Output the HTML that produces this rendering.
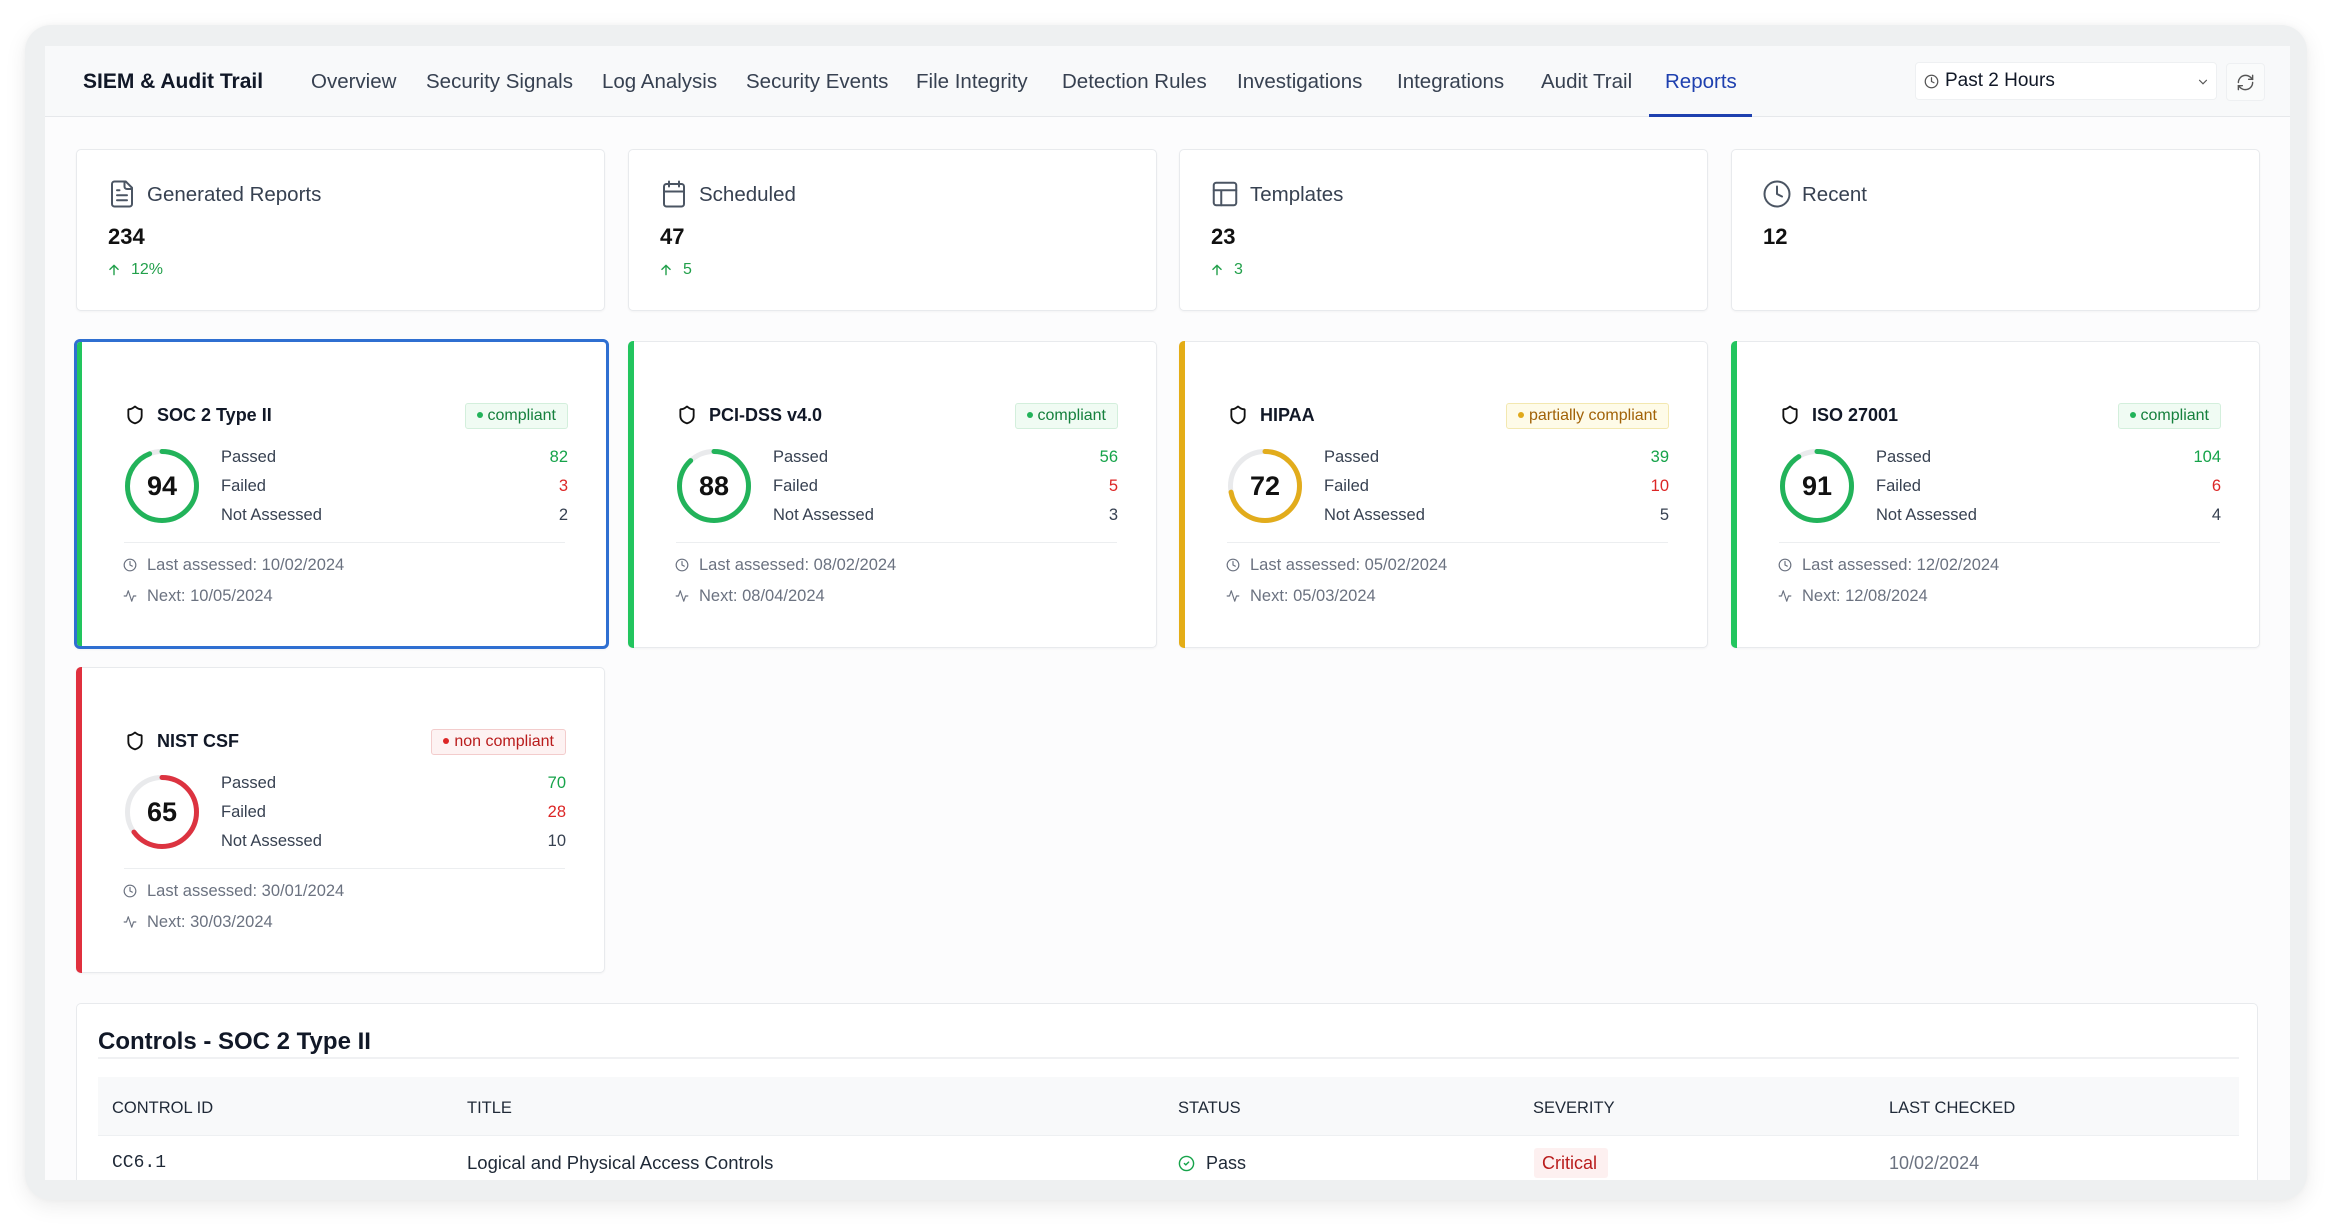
<!DOCTYPE html>
<html><head><meta charset="utf-8">
<style>
*{box-sizing:border-box;margin:0;padding:0}
html,body{width:2332px;height:1224px;overflow:hidden;background:#fff;font-family:"Liberation Sans",Arial,sans-serif;color:#111827}
.t{position:absolute;white-space:nowrap}
#frame{position:absolute;left:25px;top:25px;width:2282px;height:1175px;background:#eef0f1;border-radius:26px;box-shadow:0 6px 22px rgba(0,0,0,.08),0 0 6px rgba(0,0,0,.03)}
#screen{position:absolute;left:45px;top:46px;width:2245px;height:1134px;background:#fcfcfd;overflow:hidden}
#nav{position:absolute;left:0;top:0;width:2245px;height:71px;background:#f8f9fa;border-bottom:1px solid #e6e8eb}
.nv{position:absolute;top:21px;line-height:30px;font-size:20.5px;color:#374151;white-space:nowrap}
.scard{position:absolute;top:103px;width:529px;height:162px;background:#fff;border:1px solid #e8eaed;border-radius:5px;box-shadow:0 1px 2px rgba(0,0,0,.04)}
.scard .lab{position:absolute;left:70px;top:33px;line-height:24px;font-size:20.5px;color:#374151;white-space:nowrap}
.scard .v{position:absolute;left:31px;top:73px;line-height:28px;font-size:22px;font-weight:bold;color:#111}
.scard .ch{position:absolute;left:54px;top:110px;line-height:20px;font-size:16px;color:#22a04b}
.scard svg.ic{position:absolute;left:30px;top:29px}
.scard svg.ar{position:absolute;left:30px;top:113px}
.card{position:absolute;width:529px;height:307px;background:#fff;border:1px solid #e8eaed;border-radius:5px;box-shadow:0 1px 2px rgba(0,0,0,.04)}
.card .bar{position:absolute;left:-1px;top:-1px;bottom:-1px;width:6px;border-radius:5px 0 0 5px}
.card.sel{border:3px solid #2f6fd1;border-radius:6px;width:535px;height:310px}
.card.sel .bar{left:0;top:0;bottom:0;width:5px;border-radius:3px 0 0 3px}
.shield{position:absolute;left:48px;top:63px}
.ctitle{position:absolute;left:80px;top:61px;line-height:24px;font-size:18px;font-weight:bold;color:#111827;white-space:nowrap}
.badge{position:absolute;right:38px;top:61px;height:26px;line-height:24px;padding:0 11px 0 11px;font-size:16px;border:1px solid;border-radius:3px;white-space:nowrap}
.badge i{display:inline-block;width:6px;height:6px;border-radius:50%;margin-right:5px;vertical-align:2px}
.ok{background:#f0fbf3;border-color:#d3efdc;color:#15803d}.ok i{background:#22b35a}
.pa{background:#fefbe8;border-color:#f3e8b0;color:#a16207}.pa i{background:#e0a91b}
.no{background:#fdf2f2;border-color:#f3cccc;color:#b91c1c}.no i{background:#dc2626}
.ring{position:absolute;left:47px;top:106px}
.num{position:absolute;left:47px;top:106px;width:76px;height:76px;line-height:76px;text-align:center;font-size:27px;font-weight:bold;color:#111}
.lb{position:absolute;left:144px;line-height:24px;font-size:16.5px;color:#374151;white-space:nowrap}
.vl{position:absolute;right:38px;line-height:24px;font-size:16.5px;text-align:right}
.g{color:#16a34a}.r{color:#dc2626}.k{color:#374151}
.dv{position:absolute;left:47px;top:200px;width:441px;height:1px;background:#eceef0}
.mi{position:absolute;left:46px}
.mt{position:absolute;left:70px;line-height:24px;font-size:16.5px;color:#6b7280;white-space:nowrap}
#panel{position:absolute;left:31px;top:957px;width:2182px;height:177px;background:#fff;border:1px solid #e8eaed;border-bottom:none;border-radius:5px 5px 0 0;overflow:hidden}
.th{position:absolute;top:92px;line-height:24px;font-size:16.5px;color:#1f2937;white-space:nowrap}
.td{position:absolute;top:147px;line-height:24px;font-size:18px;color:#1f2937;white-space:nowrap}
</style></head><body>
<div id="frame"></div>
<div id="screen">
  <div id="nav">
    <div class="t" style="left:38px;top:22px;line-height:28px;font-size:21px;font-weight:bold;color:#111827">SIEM &amp; Audit Trail</div>
    <div class="nv" style="left:266px">Overview</div>
    <div class="nv" style="left:381px">Security Signals</div>
    <div class="nv" style="left:557px">Log Analysis</div>
    <div class="nv" style="left:701px">Security Events</div>
    <div class="nv" style="left:871px">File Integrity</div>
    <div class="nv" style="left:1017px">Detection Rules</div>
    <div class="nv" style="left:1192px">Investigations</div>
    <div class="nv" style="left:1352px">Integrations</div>
    <div class="nv" style="left:1496px">Audit Trail</div>
    <div class="nv" style="left:1620px;color:#1e40af">Reports</div>
    <div style="position:absolute;left:1604px;top:68px;width:103px;height:3px;background:#1e40af"></div>
    <div style="position:absolute;left:1870px;top:16px;width:302px;height:38px;background:#fff;border:1px solid #eef0f2;border-radius:4px">
      <svg style="position:absolute;left:8px;top:11px" width="15" height="15" viewBox="0 0 24 24" fill="none" stroke="#555" stroke-width="2" stroke-linecap="round"><circle cx="12" cy="12" r="10"/><polyline points="12 6 12 12 16 14"/></svg>
      <div class="t" style="left:29px;top:6px;line-height:24px;font-size:19px;color:#111827">Past 2 Hours</div>
      <svg style="position:absolute;left:280px;top:12px" width="14" height="14" viewBox="0 0 24 24" fill="none" stroke="#555" stroke-width="2" stroke-linecap="round"><path d="m6 9 6 6 6-6"/></svg>
    </div>
    <div style="position:absolute;left:2181px;top:17px;width:39px;height:38px;background:#fafbfb;border:1px solid #eef0f2;border-radius:4px">
      <svg style="position:absolute;left:9px;top:9px" width="19" height="19" viewBox="0 0 24 24" fill="none" stroke="#555" stroke-width="1.8" stroke-linecap="round" stroke-linejoin="round"><path d="M3 12a9 9 0 0 1 9-9 9.75 9.75 0 0 1 6.74 2.74L21 8"/><path d="M21 3v5h-5"/><path d="M21 12a9 9 0 0 1-9 9 9.75 9.75 0 0 1-6.74-2.74L3 16"/><path d="M8 16H3v5"/></svg>
    </div>
  </div>

  <!-- stat cards -->
  <div class="scard" style="left:31px">
    <svg class="ic" width="30" height="30" viewBox="0 0 24 24" fill="none" stroke="#4b5563" stroke-width="1.6" stroke-linecap="round" stroke-linejoin="round"><path d="M15 2H6a2 2 0 0 0-2 2v16a2 2 0 0 0 2 2h12a2 2 0 0 0 2-2V7Z"/><path d="M14 2v4a2 2 0 0 0 2 2h4"/><path d="M10 9H8"/><path d="M16 13H8"/><path d="M16 17H8"/></svg>
    <div class="lab">Generated Reports</div>
    <div class="v">234</div>
    <svg class="ar" width="14" height="14" viewBox="0 0 24 24" fill="none" stroke="#22a04b" stroke-width="2.4" stroke-linecap="round" stroke-linejoin="round"><path d="M12 20V4M5 11l7-7 7 7"/></svg>
    <div class="ch">12%</div>
  </div>
  <div class="scard" style="left:583px">
    <svg class="ic" width="30" height="30" viewBox="0 0 24 24" fill="none" stroke="#4b5563" stroke-width="1.6" stroke-linecap="round" stroke-linejoin="round"><rect width="16" height="18" x="4" y="4" rx="2"/><path d="M16 2v4M8 2v4M4 10h16"/></svg>
    <div class="lab">Scheduled</div>
    <div class="v">47</div>
    <svg class="ar" width="14" height="14" viewBox="0 0 24 24" fill="none" stroke="#22a04b" stroke-width="2.4" stroke-linecap="round" stroke-linejoin="round"><path d="M12 20V4M5 11l7-7 7 7"/></svg>
    <div class="ch">5</div>
  </div>
  <div class="scard" style="left:1134px">
    <svg class="ic" width="30" height="30" viewBox="0 0 24 24" fill="none" stroke="#4b5563" stroke-width="1.6" stroke-linecap="round" stroke-linejoin="round"><rect width="18" height="18" x="3" y="3" rx="2"/><path d="M3 9h18M9 21V9"/></svg>
    <div class="lab">Templates</div>
    <div class="v">23</div>
    <svg class="ar" width="14" height="14" viewBox="0 0 24 24" fill="none" stroke="#22a04b" stroke-width="2.4" stroke-linecap="round" stroke-linejoin="round"><path d="M12 20V4M5 11l7-7 7 7"/></svg>
    <div class="ch">3</div>
  </div>
  <div class="scard" style="left:1686px">
    <svg class="ic" width="30" height="30" viewBox="0 0 24 24" fill="none" stroke="#4b5563" stroke-width="1.6" stroke-linecap="round" stroke-linejoin="round"><circle cx="12" cy="12" r="10"/><polyline points="12 6 12 12 16 14"/></svg>
    <div class="lab">Recent</div>
    <div class="v">12</div>
  </div>

  <!-- compliance cards -->
  <div class="card sel" style="left:29px;top:293px">
    <div class="bar" style="background:#22c55e"></div>
    <svg class="shield" width="20" height="20" viewBox="0 0 24 24" fill="none" stroke="#111" stroke-width="2.2" stroke-linejoin="round"><path d="M20 13c0 5-3.5 7.5-7.66 8.95a1 1 0 0 1-.67-.01C7.5 20.5 4 18 4 13V6a1 1 0 0 1 1-1c2 0 4.5-1.2 6.24-2.72a1.17 1.17 0 0 1 1.52 0C14.51 3.81 17 5 19 5a1 1 0 0 1 1 1z"/></svg>
    <div class="ctitle">SOC 2 Type II</div>
    <div class="badge ok"><i></i>compliant</div>
    <svg class="ring" width="76" height="76"><circle cx="38" cy="38" r="34.5" fill="none" stroke="#e9eaec" stroke-width="5"/><circle cx="38" cy="38" r="34.5" fill="none" stroke="#22b35a" stroke-width="5" stroke-dasharray="203.8 216.8" stroke-linecap="round" transform="rotate(-90 38 38)"/></svg>
    <div class="num">94</div>
    <div class="lb" style="top:103px">Passed</div><div class="vl g" style="top:103px">82</div>
    <div class="lb" style="top:132px">Failed</div><div class="vl r" style="top:132px">3</div>
    <div class="lb" style="top:161px">Not Assessed</div><div class="vl k" style="top:161px">2</div>
    <div class="dv"></div>
    <svg class="mi" style="top:216px" width="14" height="14" viewBox="0 0 24 24" fill="none" stroke="#6b7280" stroke-width="2" stroke-linecap="round"><circle cx="12" cy="12" r="10"/><polyline points="12 6 12 12 16 14"/></svg>
    <div class="mt" style="top:211px">Last assessed: 10/02/2024</div>
    <svg class="mi" style="top:247px" width="14" height="14" viewBox="0 0 24 24" fill="none" stroke="#6b7280" stroke-width="2" stroke-linecap="round" stroke-linejoin="round"><path d="M22 12h-4l-3 9L9 3l-3 9H2"/></svg>
    <div class="mt" style="top:242px">Next: 10/05/2024</div>
  </div>

  <div class="card" style="left:583px;top:295px">
    <div class="bar" style="background:#22c55e"></div>
    <svg class="shield" width="20" height="20" viewBox="0 0 24 24" fill="none" stroke="#111" stroke-width="2.2" stroke-linejoin="round"><path d="M20 13c0 5-3.5 7.5-7.66 8.95a1 1 0 0 1-.67-.01C7.5 20.5 4 18 4 13V6a1 1 0 0 1 1-1c2 0 4.5-1.2 6.24-2.72a1.17 1.17 0 0 1 1.52 0C14.51 3.81 17 5 19 5a1 1 0 0 1 1 1z"/></svg>
    <div class="ctitle">PCI-DSS v4.0</div>
    <div class="badge ok"><i></i>compliant</div>
    <svg class="ring" width="76" height="76"><circle cx="38" cy="38" r="34.5" fill="none" stroke="#e9eaec" stroke-width="5"/><circle cx="38" cy="38" r="34.5" fill="none" stroke="#22b35a" stroke-width="5" stroke-dasharray="190.8 216.8" stroke-linecap="round" transform="rotate(-90 38 38)"/></svg>
    <div class="num">88</div>
    <div class="lb" style="top:103px">Passed</div><div class="vl g" style="top:103px">56</div>
    <div class="lb" style="top:132px">Failed</div><div class="vl r" style="top:132px">5</div>
    <div class="lb" style="top:161px">Not Assessed</div><div class="vl k" style="top:161px">3</div>
    <div class="dv"></div>
    <svg class="mi" style="top:216px" width="14" height="14" viewBox="0 0 24 24" fill="none" stroke="#6b7280" stroke-width="2" stroke-linecap="round"><circle cx="12" cy="12" r="10"/><polyline points="12 6 12 12 16 14"/></svg>
    <div class="mt" style="top:211px">Last assessed: 08/02/2024</div>
    <svg class="mi" style="top:247px" width="14" height="14" viewBox="0 0 24 24" fill="none" stroke="#6b7280" stroke-width="2" stroke-linecap="round" stroke-linejoin="round"><path d="M22 12h-4l-3 9L9 3l-3 9H2"/></svg>
    <div class="mt" style="top:242px">Next: 08/04/2024</div>
  </div>

  <div class="card" style="left:1134px;top:295px">
    <div class="bar" style="background:#e4ad16"></div>
    <svg class="shield" width="20" height="20" viewBox="0 0 24 24" fill="none" stroke="#111" stroke-width="2.2" stroke-linejoin="round"><path d="M20 13c0 5-3.5 7.5-7.66 8.95a1 1 0 0 1-.67-.01C7.5 20.5 4 18 4 13V6a1 1 0 0 1 1-1c2 0 4.5-1.2 6.24-2.72a1.17 1.17 0 0 1 1.52 0C14.51 3.81 17 5 19 5a1 1 0 0 1 1 1z"/></svg>
    <div class="ctitle">HIPAA</div>
    <div class="badge pa"><i></i>partially compliant</div>
    <svg class="ring" width="76" height="76"><circle cx="38" cy="38" r="34.5" fill="none" stroke="#e9eaec" stroke-width="5"/><circle cx="38" cy="38" r="34.5" fill="none" stroke="#e2ac1c" stroke-width="5" stroke-dasharray="156.1 216.8" stroke-linecap="round" transform="rotate(-90 38 38)"/></svg>
    <div class="num">72</div>
    <div class="lb" style="top:103px">Passed</div><div class="vl g" style="top:103px">39</div>
    <div class="lb" style="top:132px">Failed</div><div class="vl r" style="top:132px">10</div>
    <div class="lb" style="top:161px">Not Assessed</div><div class="vl k" style="top:161px">5</div>
    <div class="dv"></div>
    <svg class="mi" style="top:216px" width="14" height="14" viewBox="0 0 24 24" fill="none" stroke="#6b7280" stroke-width="2" stroke-linecap="round"><circle cx="12" cy="12" r="10"/><polyline points="12 6 12 12 16 14"/></svg>
    <div class="mt" style="top:211px">Last assessed: 05/02/2024</div>
    <svg class="mi" style="top:247px" width="14" height="14" viewBox="0 0 24 24" fill="none" stroke="#6b7280" stroke-width="2" stroke-linecap="round" stroke-linejoin="round"><path d="M22 12h-4l-3 9L9 3l-3 9H2"/></svg>
    <div class="mt" style="top:242px">Next: 05/03/2024</div>
  </div>

  <div class="card" style="left:1686px;top:295px">
    <div class="bar" style="background:#22c55e"></div>
    <svg class="shield" width="20" height="20" viewBox="0 0 24 24" fill="none" stroke="#111" stroke-width="2.2" stroke-linejoin="round"><path d="M20 13c0 5-3.5 7.5-7.66 8.95a1 1 0 0 1-.67-.01C7.5 20.5 4 18 4 13V6a1 1 0 0 1 1-1c2 0 4.5-1.2 6.24-2.72a1.17 1.17 0 0 1 1.52 0C14.51 3.81 17 5 19 5a1 1 0 0 1 1 1z"/></svg>
    <div class="ctitle">ISO 27001</div>
    <div class="badge ok"><i></i>compliant</div>
    <svg class="ring" width="76" height="76"><circle cx="38" cy="38" r="34.5" fill="none" stroke="#e9eaec" stroke-width="5"/><circle cx="38" cy="38" r="34.5" fill="none" stroke="#22b35a" stroke-width="5" stroke-dasharray="197.3 216.8" stroke-linecap="round" transform="rotate(-90 38 38)"/></svg>
    <div class="num">91</div>
    <div class="lb" style="top:103px">Passed</div><div class="vl g" style="top:103px">104</div>
    <div class="lb" style="top:132px">Failed</div><div class="vl r" style="top:132px">6</div>
    <div class="lb" style="top:161px">Not Assessed</div><div class="vl k" style="top:161px">4</div>
    <div class="dv"></div>
    <svg class="mi" style="top:216px" width="14" height="14" viewBox="0 0 24 24" fill="none" stroke="#6b7280" stroke-width="2" stroke-linecap="round"><circle cx="12" cy="12" r="10"/><polyline points="12 6 12 12 16 14"/></svg>
    <div class="mt" style="top:211px">Last assessed: 12/02/2024</div>
    <svg class="mi" style="top:247px" width="14" height="14" viewBox="0 0 24 24" fill="none" stroke="#6b7280" stroke-width="2" stroke-linecap="round" stroke-linejoin="round"><path d="M22 12h-4l-3 9L9 3l-3 9H2"/></svg>
    <div class="mt" style="top:242px">Next: 12/08/2024</div>
  </div>

  <div class="card" style="left:31px;top:621px;height:306px">
    <div class="bar" style="background:#e0303e"></div>
    <svg class="shield" width="20" height="20" viewBox="0 0 24 24" fill="none" stroke="#111" stroke-width="2.2" stroke-linejoin="round"><path d="M20 13c0 5-3.5 7.5-7.66 8.95a1 1 0 0 1-.67-.01C7.5 20.5 4 18 4 13V6a1 1 0 0 1 1-1c2 0 4.5-1.2 6.24-2.72a1.17 1.17 0 0 1 1.52 0C14.51 3.81 17 5 19 5a1 1 0 0 1 1 1z"/></svg>
    <div class="ctitle">NIST CSF</div>
    <div class="badge no"><i></i>non compliant</div>
    <svg class="ring" width="76" height="76"><circle cx="38" cy="38" r="34.5" fill="none" stroke="#e9eaec" stroke-width="5"/><circle cx="38" cy="38" r="34.5" fill="none" stroke="#dc3340" stroke-width="5" stroke-dasharray="140.9 216.8" stroke-linecap="round" transform="rotate(-90 38 38)"/></svg>
    <div class="num">65</div>
    <div class="lb" style="top:103px">Passed</div><div class="vl g" style="top:103px">70</div>
    <div class="lb" style="top:132px">Failed</div><div class="vl r" style="top:132px">28</div>
    <div class="lb" style="top:161px">Not Assessed</div><div class="vl k" style="top:161px">10</div>
    <div class="dv"></div>
    <svg class="mi" style="top:216px" width="14" height="14" viewBox="0 0 24 24" fill="none" stroke="#6b7280" stroke-width="2" stroke-linecap="round"><circle cx="12" cy="12" r="10"/><polyline points="12 6 12 12 16 14"/></svg>
    <div class="mt" style="top:211px">Last assessed: 30/01/2024</div>
    <svg class="mi" style="top:247px" width="14" height="14" viewBox="0 0 24 24" fill="none" stroke="#6b7280" stroke-width="2" stroke-linecap="round" stroke-linejoin="round"><path d="M22 12h-4l-3 9L9 3l-3 9H2"/></svg>
    <div class="mt" style="top:242px">Next: 30/03/2024</div>
  </div>

  <!-- controls panel -->
  <div id="panel">
    <div class="t" style="left:21px;top:23px;line-height:30px;font-size:24px;font-weight:bold;color:#111827">Controls - SOC 2 Type II</div>
    <div style="position:absolute;left:21px;top:53px;width:2141px;height:2px;background:#f0f1f3"></div>
    <div style="position:absolute;left:21px;top:73px;width:2141px;height:59px;background:#f8f9fa;border-bottom:1px solid #eef0f2"></div>
    <div class="th" style="left:35px">CONTROL ID</div>
    <div class="th" style="left:390px">TITLE</div>
    <div class="th" style="left:1101px">STATUS</div>
    <div class="th" style="left:1456px">SEVERITY</div>
    <div class="th" style="left:1812px">LAST CHECKED</div>
    <div class="td" style="left:35px;font-family:'Liberation Mono',monospace;font-size:18px">CC6.1</div>
    <div class="td" style="left:390px;font-size:18.5px">Logical and Physical Access Controls</div>
    <svg style="position:absolute;left:1101px;top:151px" width="17" height="17" viewBox="0 0 24 24" fill="none" stroke="#16a34a" stroke-width="2" stroke-linecap="round" stroke-linejoin="round"><circle cx="12" cy="12" r="10"/><path d="m9 12 2 2 4-4"/></svg>
    <div class="td" style="left:1129px">Pass</div>
    <div style="position:absolute;left:1457px;top:144px;width:74px;height:30px;background:#fdf0f0;border-radius:3px"></div>
    <div class="td" style="left:1465px;color:#b91c1c">Critical</div>
    <div class="td" style="left:1812px;color:#6b7280">10/02/2024</div>
  </div>
</div>
</body></html>
